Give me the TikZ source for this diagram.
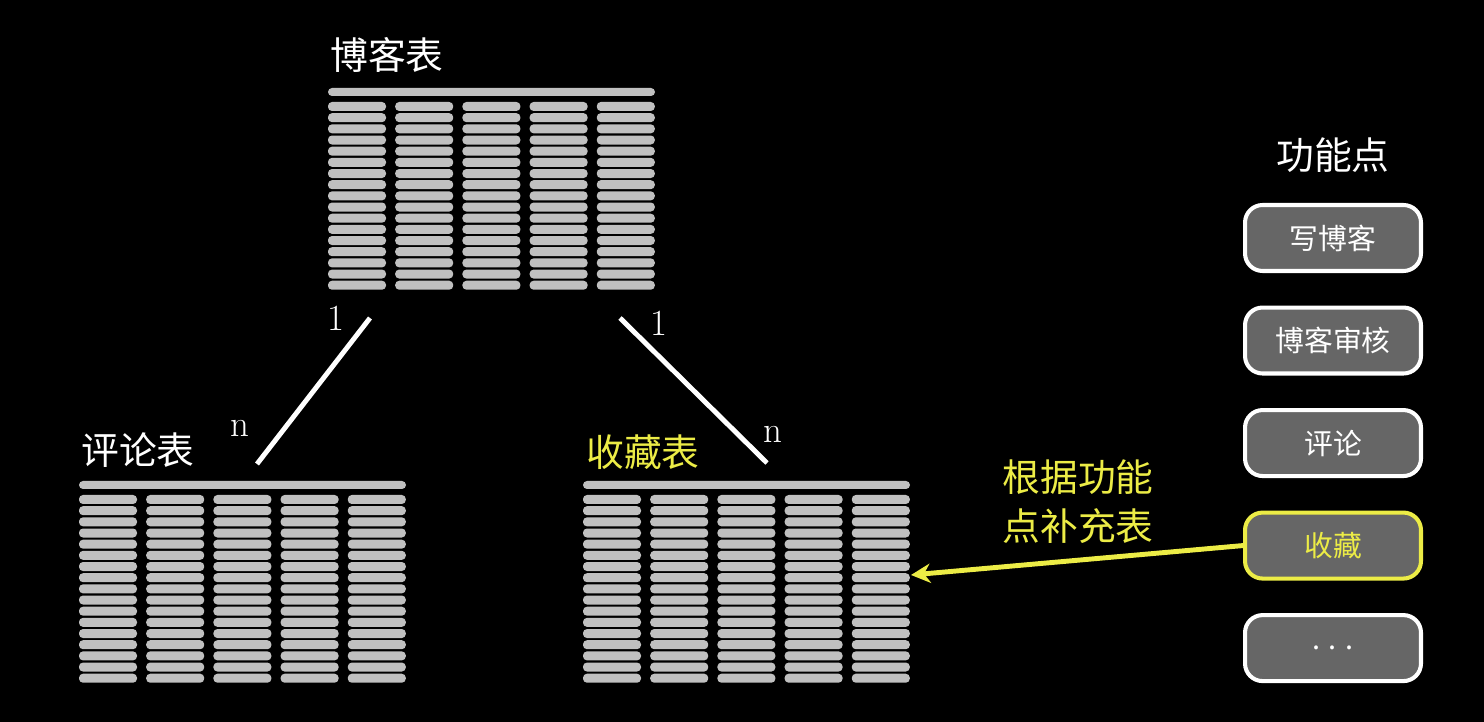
\documentclass[tikz,border=0pt]{standalone}
\usepackage{fontspec}
\newfontfamily\cjk{Noto Sans CJK SC}
\usetikzlibrary{positioning,arrows.meta}
\definecolor{bar}{RGB}{192,192,192}
\definecolor{hl}{RGB}{236,236,70}
\definecolor{btn}{RGB}{102,102,102}

% one table: header bar plus 17 rows of 5 cells
\newcommand{\tablerows}{%
  \fill[bar,rounded corners=0.08cm] (0,0) rectangle (327,8);
  \foreach \i in {0,...,16}
    \foreach \j in {0,...,4}
      \fill[bar,rounded corners=0.08cm] (67.2*\j,14+11.17*\i) rectangle ++(58,9);
}

\begin{document}
\begin{tikzpicture}[x=0.02cm,y=-0.02cm,
    title/.style={font=\cjk\fontsize{21.5}{26}\selectfont},
    card/.style={font=\fontsize{21}{25}\selectfont,text=white},
    fnbox/.style={draw=white,fill=btn,line width=2.3pt,rounded corners=10pt,
      minimum width=3.52cm,minimum height=1.32cm,text=white,
      font=\cjk\fontsize{16.4}{20}\selectfont},
    link/.style={white,line width=2.8pt}]
		\fill[black] (0,0) rectangle (1484,722);

		\begin{scope}[shift={(328,88)}] \tablerows \end{scope}
		\begin{scope}[shift={(79,481)}] \tablerows \end{scope}
		\begin{scope}[shift={(583,481)}] \tablerows \end{scope}

		\node[title,text=white] (blog) at (387,55) {博客表};
		\node[title,text=white] (cmt) at (138,450) {评论表};
		\node[title,text=hl] (fav) at (643,452) {收藏表};

		\coordinate (bl) at (370,318);
		\coordinate (cl) at (257,464);
		\coordinate (br) at (620,318);
		\coordinate (fr) at (767,463);
		\draw[link] (bl)--(cl);
		\draw[link] (br)--(fr);
		\node[card] (one1) at (336,318) {1};
		\node[card] (n1) at (240,428) {n};
		\node[card] (one2) at (659,323) {1};
		\node[card] (n2) at (773,434) {n};

		\node[title,text=white] (fn) at (1333,155) {功能点};
		\node[fnbox] (f1) at (1333,238) {写博客};
		\node[fnbox,below=0.65cm of f1] (f2) {博客审核};
		\node[fnbox,below=0.65cm of f2] (f3) {评论};
		\node[fnbox,below=0.65cm of f3,draw=hl,text=hl] (f4) {收藏};
		\node[fnbox,below=0.65cm of f4] (f5) {. . .};

		\node[title,text=hl,align=center] (note) at (1078,502) {根据功能\\[2pt]点补充表};
		\coordinate (favin) at (911,575);
		\draw[hl,line width=2.8pt,-{Stealth[length=11pt,width=11pt]}] (f4.west)--(favin);
	\end{tikzpicture}
\end{document}
